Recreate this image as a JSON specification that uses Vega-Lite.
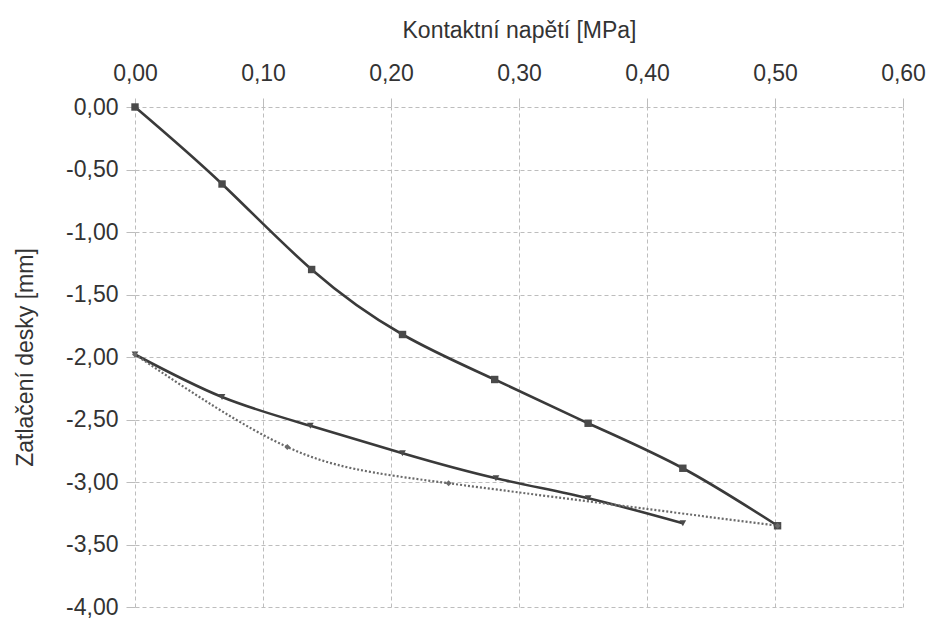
{
  "$schema": "https://vega.github.io/schema/vega-lite/v6.json",
  "width": 768,
  "height": 500,
  "autosize": "none",
  "padding": {"left": 135, "top": 107, "right": 23, "bottom": 11},
  "background": "white",
  "data": {
    "values": [
      {"serie": "zatizeni", "napeti": 0.0, "zatlaceni": 0.0},
      {"serie": "zatizeni", "napeti": 0.068, "zatlaceni": -0.616},
      {"serie": "zatizeni", "napeti": 0.138, "zatlaceni": -1.3},
      {"serie": "zatizeni", "napeti": 0.209, "zatlaceni": -1.82},
      {"serie": "zatizeni", "napeti": 0.281, "zatlaceni": -2.18},
      {"serie": "zatizeni", "napeti": 0.354, "zatlaceni": -2.53},
      {"serie": "zatizeni", "napeti": 0.428, "zatlaceni": -2.89},
      {"serie": "zatizeni", "napeti": 0.502, "zatlaceni": -3.35},
      {"serie": "odlehceni", "napeti": 0.0, "zatlaceni": -1.98},
      {"serie": "odlehceni", "napeti": 0.068, "zatlaceni": -2.32},
      {"serie": "odlehceni", "napeti": 0.137, "zatlaceni": -2.55},
      {"serie": "odlehceni", "napeti": 0.209, "zatlaceni": -2.77},
      {"serie": "odlehceni", "napeti": 0.282, "zatlaceni": -2.97},
      {"serie": "odlehceni", "napeti": 0.354, "zatlaceni": -3.13},
      {"serie": "odlehceni", "napeti": 0.428, "zatlaceni": -3.33},
      {"serie": "opakovane", "napeti": 0.0, "zatlaceni": -1.98},
      {"serie": "opakovane", "napeti": 0.119, "zatlaceni": -2.72},
      {"serie": "opakovane", "napeti": 0.245, "zatlaceni": -3.01},
      {"serie": "opakovane", "napeti": 0.502, "zatlaceni": -3.35}
    ]
  },
  "encoding": {
    "x": {
      "field": "napeti",
      "type": "quantitative",
      "title": "Kontaktní napětí [MPa]",
      "scale": {"domain": [0, 0.6], "nice": false},
      "axis": {
        "orient": "top",
        "values": [0, 0.1, 0.2, 0.3, 0.4, 0.5, 0.6],
        "labelExpr": "replace(format(datum.value, '.2f'), '.', ',')",
        "labelFlush": false,
        "labelPadding": 13,
        "titlePadding": 20
      }
    },
    "y": {
      "field": "zatlaceni",
      "type": "quantitative",
      "title": "Zatlačení desky [mm]",
      "scale": {"domain": [-4, 0], "nice": false},
      "axis": {
        "values": [0, -0.5, -1, -1.5, -2, -2.5, -3, -3.5, -4],
        "labelExpr": "replace(replace(format(datum.value, '.2f'), '.', ','), '\u2212', '-')",
        "labelFlush": false,
        "labelPadding": 8,
        "titlePadding": 28
      }
    }
  },
  "layer": [
    {
      "transform": [{"filter": "datum.serie !== 'opakovane'"}],
      "mark": {"type": "line", "interpolate": "natural", "strokeWidth": 2.6, "color": "#3a3a3a"},
      "encoding": {"detail": {"field": "serie"}}
    },
    {
      "transform": [{"filter": "datum.serie === 'opakovane'"}],
      "mark": {"type": "line", "interpolate": "natural", "strokeWidth": 2.2, "strokeDash": [2, 2], "color": "#6a6a6a"},
      "encoding": {}
    },
    {
      "mark": {"type": "point", "filled": true, "opacity": 1},
      "encoding": {
        "shape": {
          "field": "serie",
          "type": "nominal",
          "scale": {"domain": ["zatizeni", "odlehceni", "opakovane"], "range": ["square", "triangle-down", "diamond"]},
          "legend": null
        },
        "size": {
          "field": "serie",
          "type": "nominal",
          "scale": {"domain": ["zatizeni", "odlehceni", "opakovane"], "range": [55, 35, 25]},
          "legend": null
        },
        "color": {
          "field": "serie",
          "type": "nominal",
          "scale": {"domain": ["zatizeni", "odlehceni", "opakovane"], "range": ["#4a4a4a", "#4a4a4a", "#6a6a6a"]},
          "legend": null
        }
      }
    }
  ],
  "config": {
    "view": {"stroke": null},
    "font": "Liberation Sans",
    "axis": {
      "domain": false,
      "grid": true,
      "gridColor": "#bdbdbd",
      "gridDash": [4, 3],
      "gridWidth": 1,
      "tickColor": "#bdbdbd",
      "tickSize": 9,
      "labelFont": "Liberation Sans",
      "labelFontSize": 23,
      "labelColor": "#333333",
      "titleFont": "Liberation Sans",
      "titleFontSize": 23,
      "titleFontWeight": "normal",
      "titleColor": "#333333"
    }
  }
}
